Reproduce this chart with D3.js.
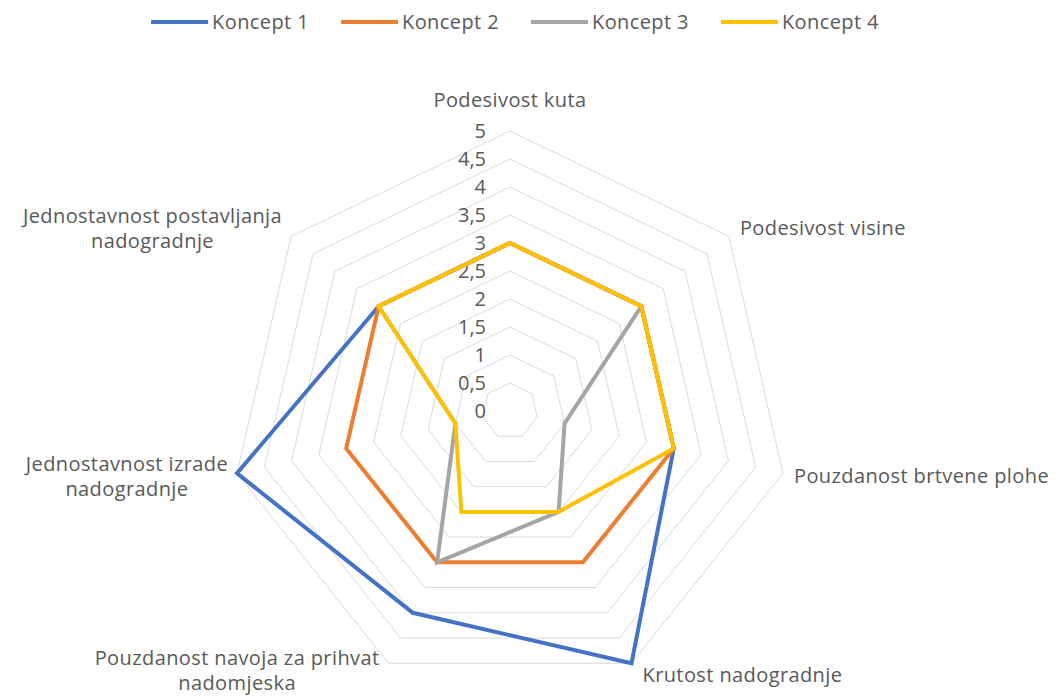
<!DOCTYPE html>
<html>
<head>
<meta charset="utf-8">
<script src="https://cdn.jsdelivr.net/npm/d3@7"></script>
<style>
  html, body { margin: 0; padding: 0; background: #fff; }
  svg { display: block; font-family: "Open Sans", "Noto Sans", sans-serif; }
</style>
</head>
<body>
<svg id="chart" width="1056" height="698"></svg>
<script>
// Criteria (axes of the radar), clockwise from the top
const criteria = [
  ["Podesivost kuta"],
  ["Podesivost visine"],
  ["Pouzdanost brtvene plohe"],
  ["Krutost nadogradnje"],
  ["Pouzdanost navoja za prihvat", "nadomjeska"],
  ["Jednostavnost izrade", "nadogradnje"],
  ["Jednostavnost postavljanja", "nadogradnje"]
];

// Ratings per concept, same order as the criteria
const koncept1 = [3, 3, 3, 5, 4, 5, 3];
const koncept2 = [3, 3, 3, 3, 3, 3, 3];
const koncept3 = [3, 3, 1, 2, 3, 1, 3];
const koncept4 = [3, 3, 3, 2, 2, 1, 3];

const seriesNames = ["Koncept 1", "Koncept 2", "Koncept 3", "Koncept 4"];
const seriesColors = ["#4472c4", "#ed7d31", "#a5a5a5", "#ffc000"];
const seriesValues = [koncept1, koncept2, koncept3, koncept4];

// Radial scale ticks
const tickValues = [0, 0.5, 1, 1.5, 2, 2.5, 3, 3.5, 4, 4.5, 5];
const tickLabels = ["0", "0,5", "1", "1,5", "2", "2,5", "3", "3,5", "4", "4,5", "5"];

const svg = d3.select("#chart");
const cx = 510, cy = 411, R = 280;
const n = criteria.length;

const r = d3.scaleLinear().domain([0, 5]).range([0, R]);
const angle = d3.scaleLinear().domain([0, n]).range([0, 2 * Math.PI]);

const point = (i, v) => {
  const a = angle(i);
  return [cx + r(v) * Math.sin(a), cy - r(v) * Math.cos(a)];
};

const textColor = "#595959";
const fontSize = 20;
const spacing = "0.4px";

// Grid rings (heptagons) at every half step
const ringLine = d3.line();
svg.append("g").selectAll("path")
  .data(tickValues.filter(t => t > 0))
  .join("path")
  .attr("d", t => ringLine(d3.range(n).map(i => point(i, t))) + "Z")
  .attr("fill", "none")
  .attr("stroke", "#d9d9d9")
  .attr("stroke-width", 1);

// Scale labels along the top axis
svg.append("g").selectAll("text")
  .data(tickValues)
  .join("text")
  .attr("x", cx - 24)
  .attr("y", t => cy - r(t))
  .attr("dy", "0.35em")
  .attr("text-anchor", "end")
  .attr("font-size", fontSize)
  .attr("fill", textColor)
  .text((t, i) => tickLabels[i]);

// Series polygons
const radarLine = d3.line();
svg.append("g").selectAll("path")
  .data(seriesValues)
  .join("path")
  .attr("d", vals => radarLine(vals.map((v, i) => point(i, v))) + "Z")
  .attr("fill", "none")
  .attr("stroke", (d, i) => seriesColors[i])
  .attr("stroke-width", 4)
  .attr("stroke-linejoin", "miter");

// Criterion labels
const lineH = 25;
const labelG = svg.append("g");
criteria.forEach((lines, i) => {
  const a = angle(i);
  const s = Math.sin(a), c = Math.cos(a);
  const [vx, vy] = point(i, 5);
  const t = labelG.append("text")
    .attr("font-size", fontSize)
    .attr("letter-spacing", spacing)
    .attr("fill", textColor)
    .attr("text-anchor", "middle");
  const spans = lines.map(l => t.append("tspan").text(l));
  const widths = spans.map(sp => sp.node().getComputedTextLength());
  const w = d3.max(widths);
  let x;
  if (Math.abs(s) < 0.1) x = vx;
  else if (s > 0) x = vx + 11 + w / 2;
  else x = vx - 9 - w / 2;
  let yc = vy - 13 * c - (Math.abs(s) < 0.1 ? 18 : 0);
  if (s < -0.1 && c < -0.5) yc = vy + 7;
  const y0 = yc - (lines.length - 1) * lineH / 2;
  spans.forEach((sp, k) => {
    sp.attr("x", x).attr("y", y0 + k * lineH).attr("dy", "0.35em");
  });
});

// Legend
const legend = svg.append("g");
const items = seriesNames.map((name, i) => {
  const g = legend.append("g");
  g.append("line")
    .attr("x1", 0).attr("x2", 57)
    .attr("y1", 0).attr("y2", 0)
    .attr("stroke", seriesColors[i])
    .attr("stroke-width", 4);
  const t = g.append("text")
    .attr("x", 61)
    .attr("dy", "0.35em")
    .attr("font-size", fontSize)
    .attr("letter-spacing", spacing)
    .attr("fill", textColor)
    .text(name);
  return { g, w: 61 + t.node().getComputedTextLength() };
});
const gap = 32;
const total = d3.sum(items, d => d.w) + gap * (items.length - 1);
let lx = 515 - total / 2;
items.forEach(it => {
  it.g.attr("transform", `translate(${lx},22)`);
  lx += it.w + gap;
});
</script>
</body>
</html>
